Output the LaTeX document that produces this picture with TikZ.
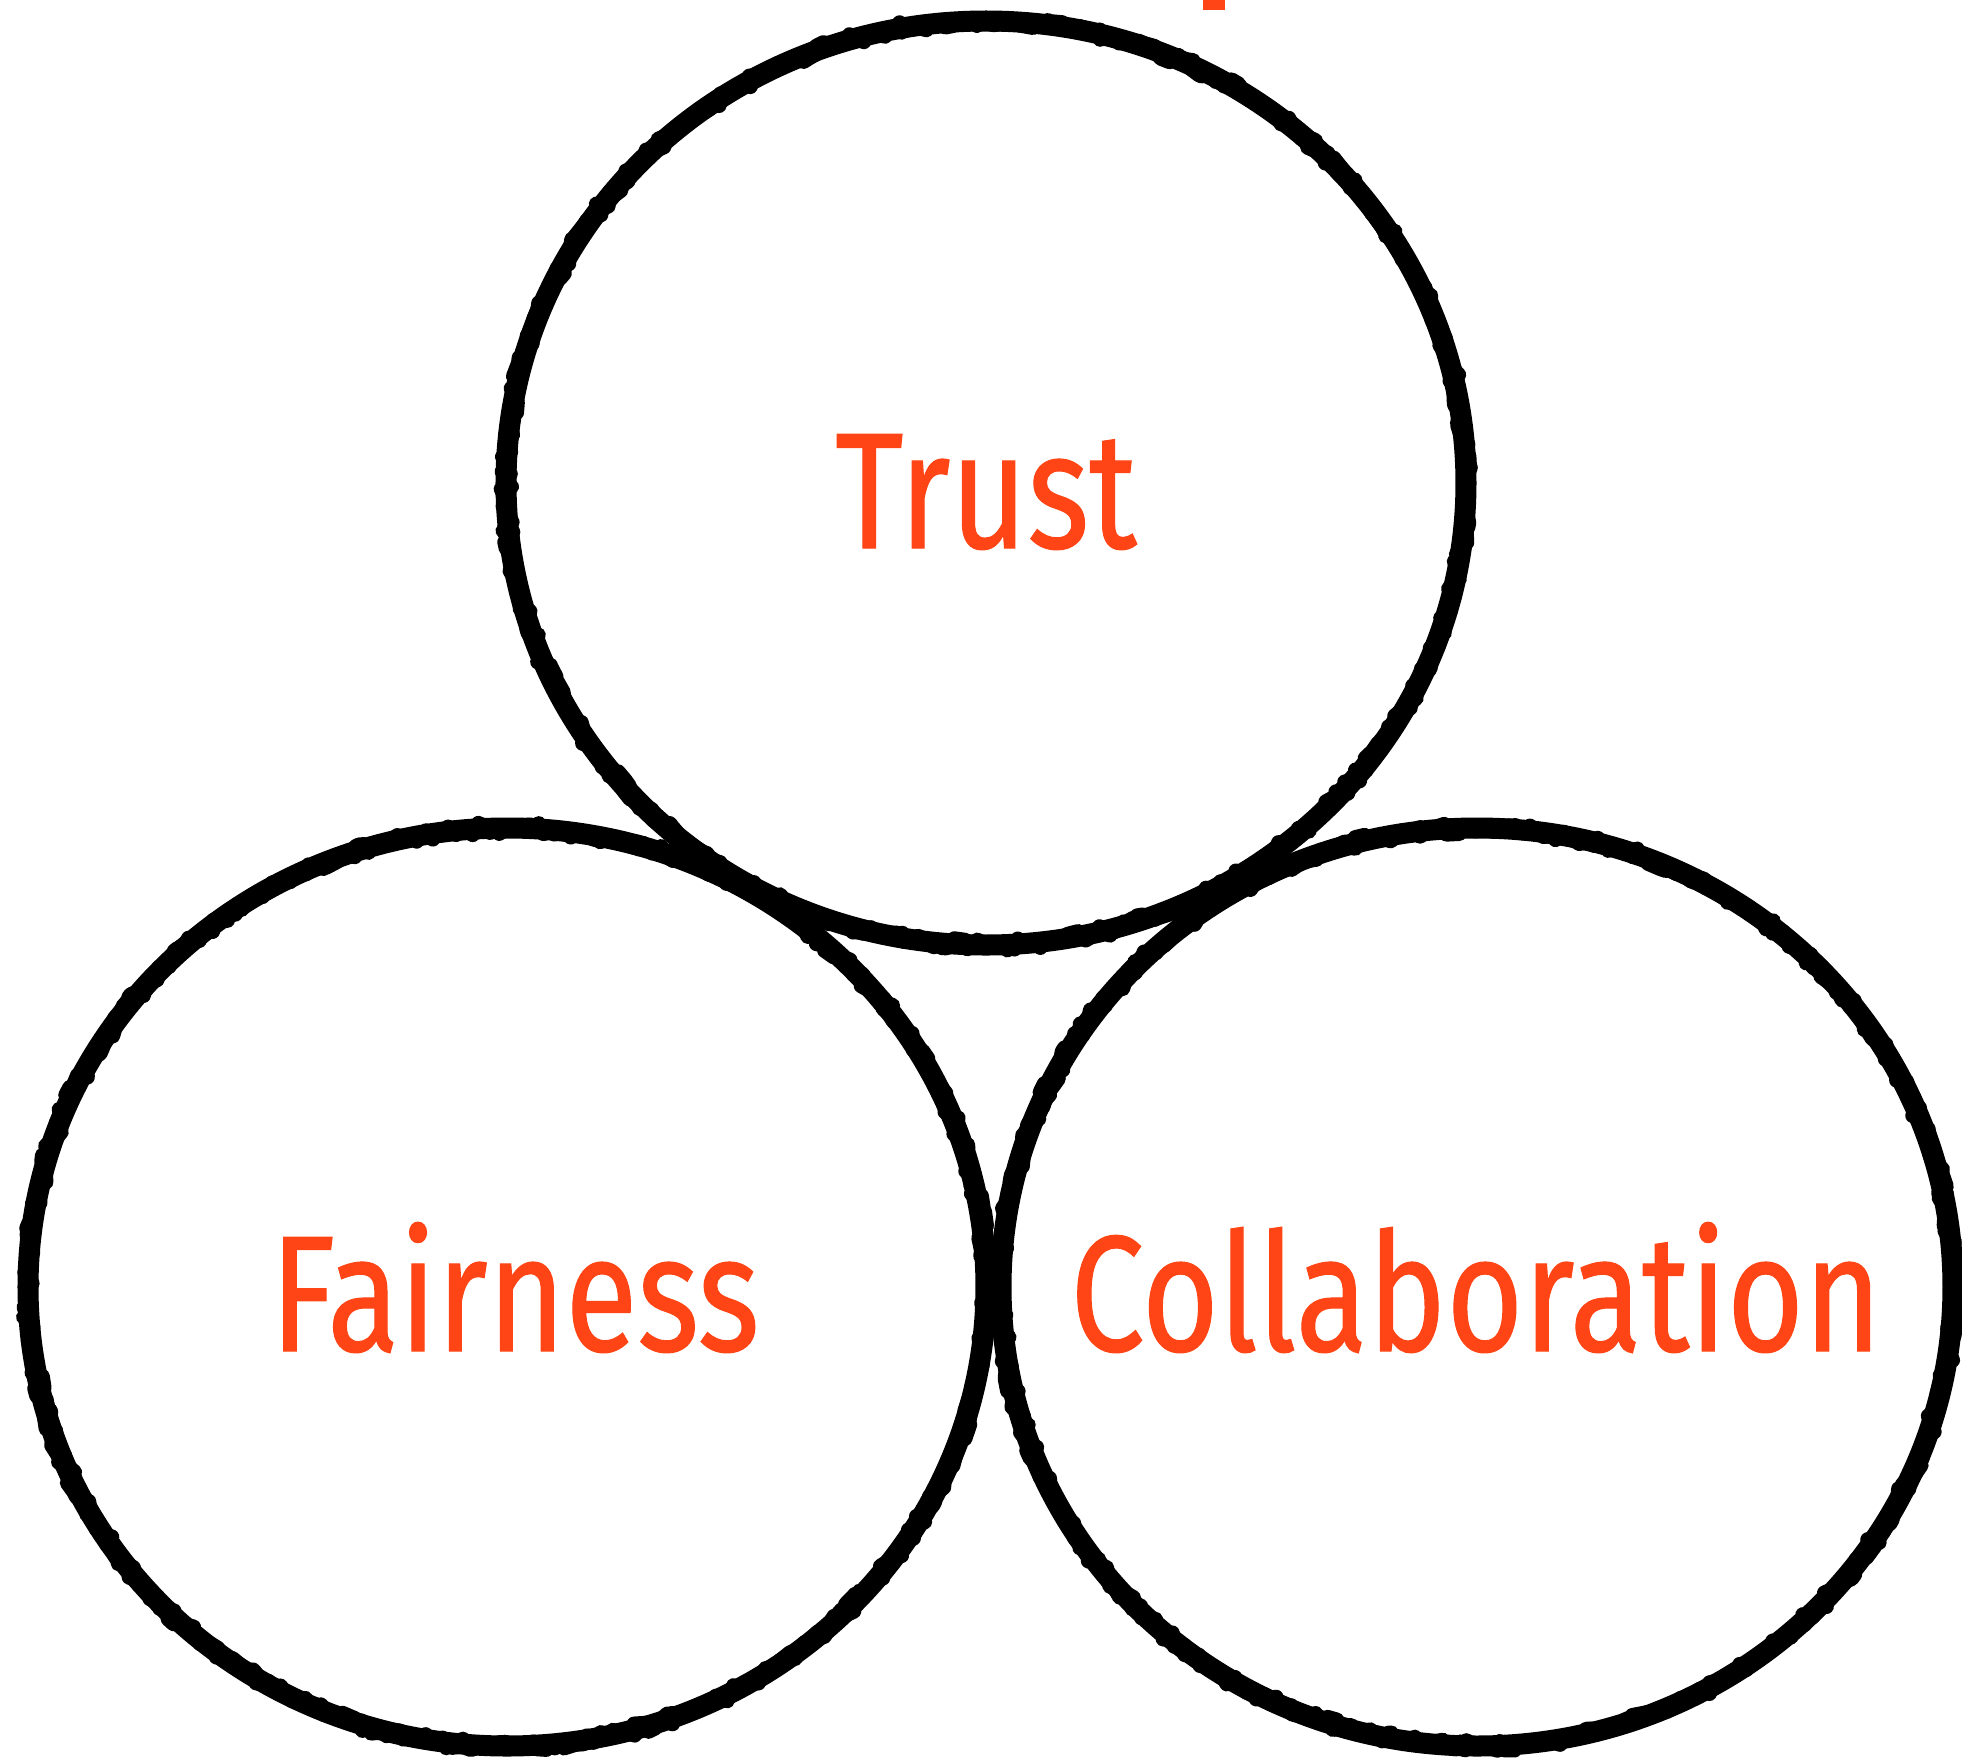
\documentclass[tikz,border=0pt]{standalone}
\usepackage{fontspec}
\setmainfont{Fira Sans}[FakeStretch=0.8, FakeBold=0.6]
\usetikzlibrary{decorations.pathmorphing}
\definecolor{lbl}{RGB}{255,69,21}
\begin{document}
\begin{tikzpicture}[x=0.01cm,y=-0.01cm,
  chalk/.style={draw=black, line width=0.21cm},
  chalkrough/.style={draw=black, line width=0.15cm, line join=round, decorate,
    decoration={random steps, segment length=1.5pt, amplitude=1.6pt}},
  lbltext/.style={text=lbl, font=\fontsize{47}{56}\selectfont, inner sep=0pt, anchor=base}]
\useasboundingbox (0,0) rectangle (1962,1760);
% cut-off fragment at the top
\fill[lbl] (1203,0) rectangle (1225,10);
% circles
\pgfmathsetseed{11}
\draw[chalk] (986,483) ellipse [x radius=480, y radius=462];
\draw[chalkrough] (986,483) ellipse [x radius=480, y radius=462];
\draw[chalk] (507,1287) ellipse [x radius=479, y radius=459];
\draw[chalkrough] (507,1287) ellipse [x radius=479, y radius=459];
\draw[chalk] (1477,1287) ellipse [x radius=476, y radius=459];
\draw[chalkrough] (1477,1287) ellipse [x radius=476, y radius=459];
% labels
\node[lbltext] (trust) at (986,548) {Trust};
\node[lbltext] (fair) at (515,1351) {Fairness};
\node[lbltext] (collab) at (1476,1351) {Collaboration};
\end{tikzpicture}
\end{document}
